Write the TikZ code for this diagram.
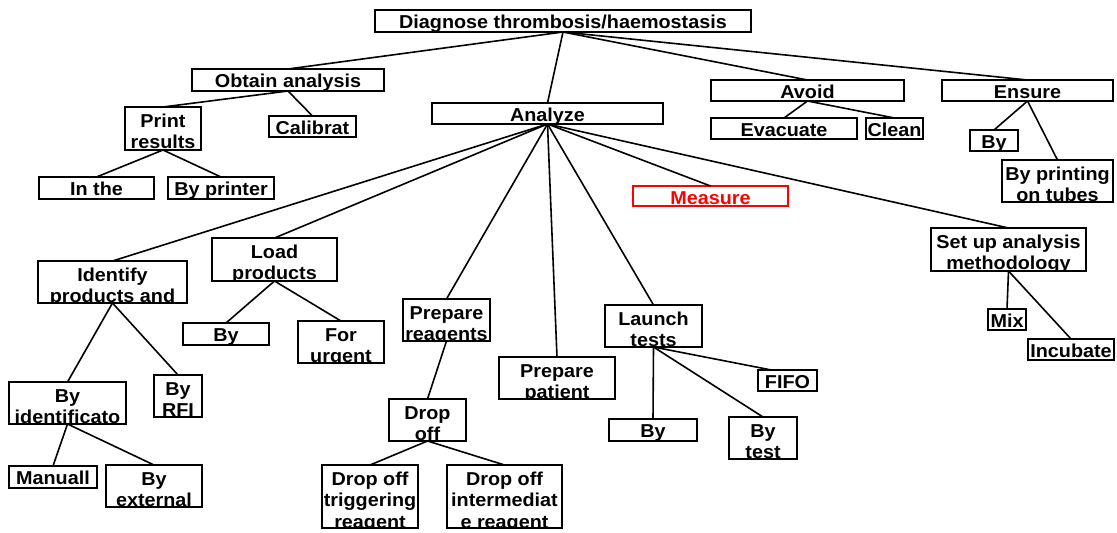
\documentclass[tikz,border=0pt]{standalone}
\usepackage{fontspec}
\setmainfont{Liberation Sans}[FakeStretch=1.06]
\usetikzlibrary{calc}
\tikzset{
  box/.style={rectangle, line width=1.4pt, inner sep=0pt, outer sep=0pt},
  txt/.style={inner sep=0pt, outer sep=0pt, anchor=base, font=\fontsize{14}{16}\selectfont\bfseries},
  conn/.style={line width=1.2pt, black}
}
% \bx[colour]{name}{x1}{y1}{x2}{y2}{line1}{line2}{line3}
\newcommand\bx[9][black]{%
  \def\bxl{#8}%
  \ifx\bxl\empty\def\bxa{18.5}\else\def\bxa{20}\fi
  \node[box, draw=#1,
    minimum width={(#5-#3)*0.75pt}, minimum height={(#6-#4)*0.75pt},
    path picture={
      \node[txt, text=#1] at ($(path picture bounding box.north)+(0,\bxa)$) {#7};
      \node[txt, text=#1] at ($(path picture bounding box.north)+(0,\bxa+21.5)$) {#8};
      \node[txt, text=#1] at ($(path picture bounding box.north)+(0,\bxa+43)$) {#9};
    }] (#2) at ({(#3+#5)/2},{(#4+#6)/2}) {};}
\begin{document}
\begin{tikzpicture}[x=0.75pt, y=-0.75pt]
\useasboundingbox (0,0) rectangle (1117,532);
\fill[white] (0,0) rectangle (1117,532);
% boxes
\bx{diag}{375}{10}{751}{32}{Diagnose thrombosis/haemostasis}{}{}
\bx{obtain}{192}{69}{384}{91}{Obtain analysis}{}{}
\bx{print}{125}{107}{201}{150}{Print}{results}{}
\bx{calib}{269}{116}{356}{137}{Calibrat}{}{}
\bx{inthe}{39}{177}{154}{199}{In the}{}{}
\bx{byprinter}{168}{177}{274}{199}{By printer}{}{}
\bx{analyze}{432}{103}{663}{124}{Analyze}{}{}
\bx{avoid}{711}{80}{904}{101}{Avoid}{}{}
\bx{evac}{711}{118}{857}{139}{Evacuate}{}{}
\bx{clean}{866}{118}{923}{139}{Clean}{}{}
\bx{ensure}{942}{80}{1113}{101}{Ensure}{}{}
\bx{ensby}{970}{130}{1018}{151}{By}{}{}
\bx{ensprint}{1002}{160}{1113}{202}{By printing}{on tubes}{}
\bx[red]{measure}{633}{186}{788}{206}{Measure}{}{}
\bx{setup}{931}{228}{1086}{271}{Set up analysis}{methodology}{}
\bx{mix}{988}{309}{1026}{330}{Mix}{}{}
\bx{incub}{1028}{339}{1114}{360}{Incubate}{}{}
\bx{ident}{38}{261}{187}{303}{Identify}{products and}{}
\bx{load}{212}{238}{337}{281}{Load}{products}{}
\bx{loadby}{183}{323}{269}{345}{By}{}{}
\bx{urgent}{298}{321}{384}{363}{For}{urgent}{}
\bx{byident}{9}{382}{126}{424}{By}{identificato}{}
\bx{byrfi}{154}{375}{202}{417}{By}{RFI}{}
\bx{manual}{9}{466}{97}{488}{Manuall}{}{}
\bx{byext}{106}{465}{202}{507}{By}{external}{}
\bx{prepreag}{403}{299}{490}{341}{Prepare}{reagents}{}
\bx{dropoff}{389}{399}{466}{441}{Drop}{off}{}
\bx{droptrig}{322}{465}{418}{528}{Drop off}{triggering}{reagent}
\bx{dropint}{447}{465}{562}{528}{Drop off}{intermediat}{e reagent}
\bx{preppat}{499}{357}{615}{399}{Prepare}{patient}{}
\bx{launch}{605}{305}{702}{347}{Launch}{tests}{}
\bx{fifo}{758}{370}{817}{391}{FIFO}{}{}
\bx{launchby}{609}{419}{697}{441}{By}{}{}
\bx{bytest}{729}{417}{797}{459}{By}{test}{}
% connectors
\draw[conn] (diag.south) -- (obtain.north);
\draw[conn] (diag.south) -- (analyze.north);
\draw[conn] (diag.south) -- (avoid.north);
\draw[conn] (diag.south) -- (ensure.north);
\draw[conn] (obtain.south) -- (print.north);
\draw[conn] (obtain.south) -- (calib.north);
\draw[conn] (print.south) -- (inthe.north);
\draw[conn] (print.south) -- (byprinter.north);
\draw[conn] (avoid.south) -- (evac.north);
\draw[conn] (avoid.south) -- (clean.north);
\draw[conn] (ensure.south) -- (ensby.north);
\draw[conn] (ensure.south) -- (ensprint.north);
\draw[conn] (analyze.south) -- (ident.north);
\draw[conn] (analyze.south) -- (load.north);
\draw[conn] (analyze.south) -- (prepreag.north);
\draw[conn] (analyze.south) -- (preppat.north);
\draw[conn] (analyze.south) -- (launch.north);
\draw[conn] (analyze.south) -- (measure.north);
\draw[conn] (analyze.south) -- (setup.north);
\draw[conn] (setup.south) -- (mix.north);
\draw[conn] (setup.south) -- (incub.north);
\draw[conn] (ident.south) -- (byident.north);
\draw[conn] (ident.south) -- (byrfi.north);
\draw[conn] (byident.south) -- (manual.north);
\draw[conn] (byident.south) -- (byext.north);
\draw[conn] (load.south) -- (loadby.north);
\draw[conn] (load.south) -- (urgent.north);
\draw[conn] (prepreag.south) -- (dropoff.north);
\draw[conn] (dropoff.south) -- (droptrig.north);
\draw[conn] (dropoff.south) -- (dropint.north);
\draw[conn] (launch.south) -- (launchby.north);
\draw[conn] (launch.south) -- (bytest.north);
\draw[conn] (launch.south) -- ([xshift=-12]fifo.north);
\end{tikzpicture}
\end{document}
